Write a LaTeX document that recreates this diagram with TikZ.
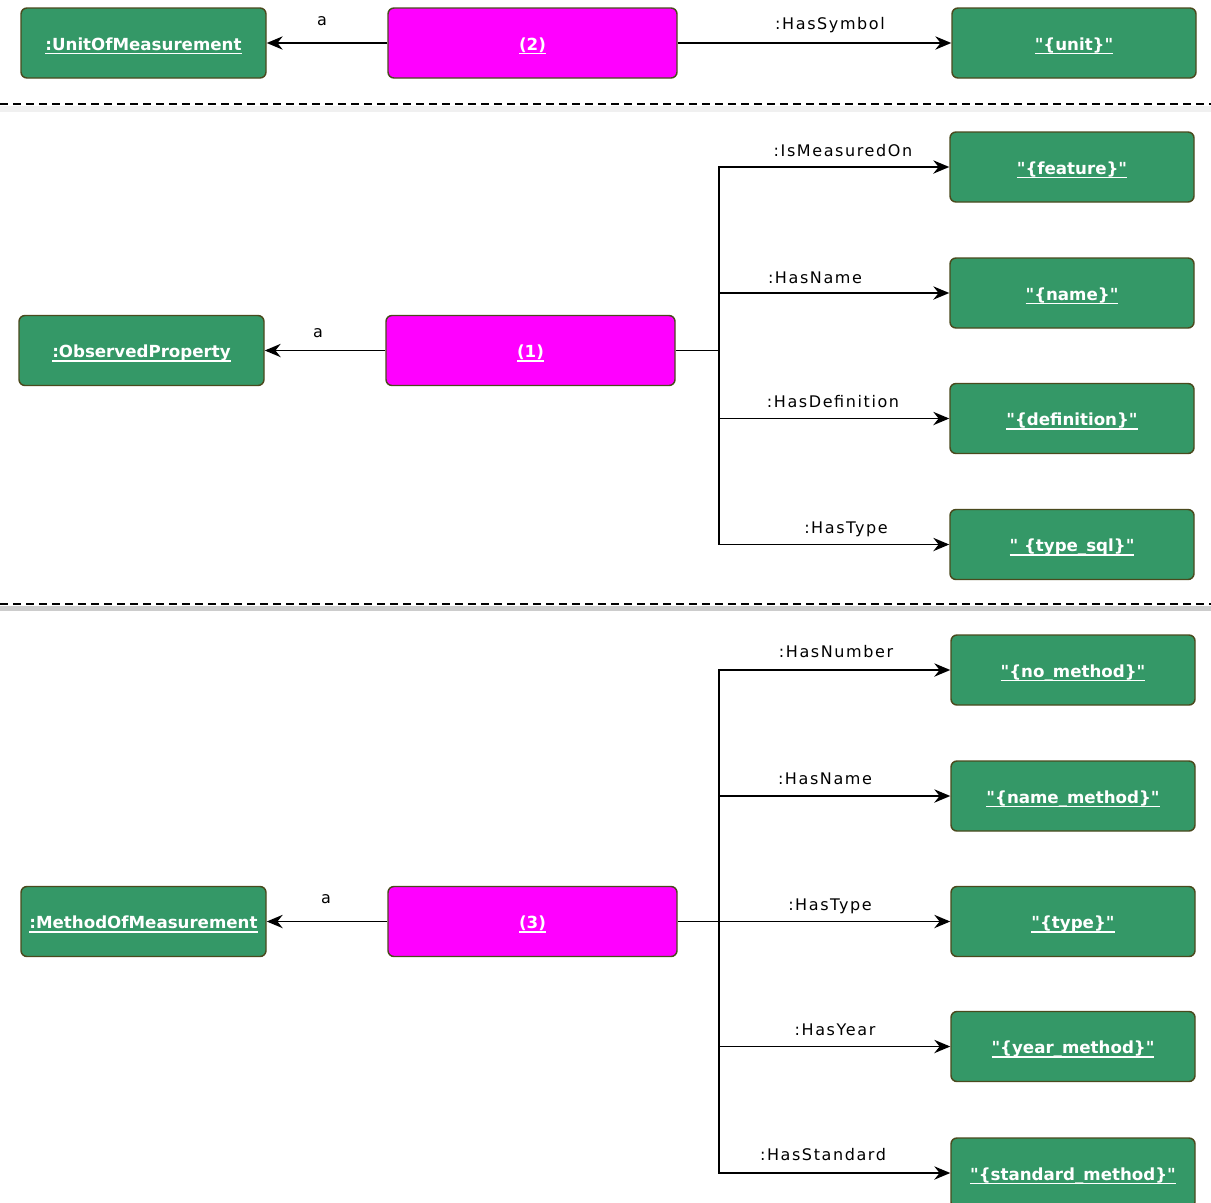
\documentclass[tikz,border=0pt]{standalone}
\usepackage{fontspec}
\setmainfont{DejaVu Sans}[Ligatures=TeXOff]
\newfontfamily\edgefont[LetterSpace=10,Ligatures=TeXOff]{DejaVu Sans}
\usetikzlibrary{arrows.meta}
\definecolor{nodegreen}{RGB}{52,152,103}
\definecolor{nodeborder}{RGB}{74,74,30}
\definecolor{magentabox}{RGB}{255,0,255}
\newsavebox{\myulbox}
\newcommand{\myul}[1]{\sbox{\myulbox}{#1}\rlap{\raisebox{-3pt}[0pt][0pt]{\rule{\wd\myulbox}{0.85pt}}}\usebox{\myulbox}}
\tikzset{
  box/.style={draw=nodeborder, line width=1.1pt, rounded corners=4.5pt, minimum height=52.5pt, inner sep=0pt, text height=12.5pt, text depth=2pt, text=white, font=\fontsize{12.5}{15}\selectfont\bfseries},
  cls/.style={box, fill=nodegreen, minimum width=183.75pt},
  lit/.style={box, fill=nodegreen, minimum width=183pt},
  subj/.style={box, fill=magentabox, minimum width=216.75pt},
  link/.style={line width=1.2pt, draw=black},
  arr/.style={link, -{Stealth[length=12pt,width=10pt,inset=4pt]}},
  elabel/.style={anchor=base, inner sep=0pt, font=\edgefont\fontsize{12}{14}\selectfont},
  sepline/.style={line width=1.5pt, dash pattern=on 6pt off 3.75pt}
}
\begin{document}
\begin{tikzpicture}[x=0.75pt,y=-0.75pt]
\useasboundingbox (0,0) rectangle (1211,1203);
\fill[white] (0,0) rectangle (1211,1203);
% section separators
\fill[gray!12] (0,106) rectangle (1211,112);
\fill[gray!40] (0,606) rectangle (1211,611);
\draw[sepline] (0,103.5) -- (1211,103.5);
\draw[sepline] (0,603.5) -- (1211,603.5);

% ---- section 1
\node[cls]  (uom)  at (143.5,43) {\myul{:UnitOfMeasurement}};
\node[subj] (s2)   at (532.5,43) {\myul{(2)}};
\node[lit]  (unit) at (1074,43)  {\myul{"\{unit\}"}};
\draw[arr] (s2) -- (uom);
\draw[arr] (s2) -- (unit);
\node[elabel] (la2) at (322,25) {a};
\node[elabel] (lsym) at (830,29) {:HasSymbol};

% ---- section 2
\node[cls]  (op)   at (141.5,350.5) {\myul{:ObservedProperty}};
\node[subj] (s1)   at (530.5,350.5) {\myul{(1)}};
\node[lit]  (feat) at (1072,167)   {\myul{"\{feature\}"}};
\node[lit]  (name) at (1072,293)   {\myul{"\{name\}"}};
\node[lit]  (defi) at (1072,418.5) {\myul{"\{definition\}"}};
\node[lit]  (tsql) at (1072,544.5) {\myul{" \{type\_sql\}"}};
\coordinate (j1) at (719,350.5);
\draw[arr] (s1) -- (op);
\draw[link] (s1) -- (j1);
\draw[arr] (j1) |- (feat);
\draw[arr] (j1) |- (name);
\draw[arr] (j1) |- (defi);
\draw[arr] (j1) |- (tsql);
\node[elabel] (la1) at (318,337) {a};
\node[elabel] (lmeas) at (843,156) {:IsMeasuredOn};
\node[elabel] (lname1) at (815,283) {:HasName};
\node[elabel] (ldef) at (833,407) {:HasDefinition};
\node[elabel] (ltype1) at (846,533) {:HasType};

% ---- section 3
\node[cls]  (mom)  at (143.5,921.5) {\myul{:MethodOfMeasurement}};
\node[subj] (s3)   at (532.5,921.5) {\myul{(3)}};
\node[lit]  (nom)  at (1073,670)    {\myul{"\{no\_method\}"}};
\node[lit]  (nam)  at (1073,796)    {\myul{"\{name\_method\}"}};
\node[lit]  (typ)  at (1073,921.5)  {\myul{"\{type\}"}};
\node[lit]  (yea)  at (1073,1046.5) {\myul{"\{year\_method\}"}};
\node[lit]  (sta)  at (1073,1173)   {\myul{"\{standard\_method\}"}};
\coordinate (j3) at (719,921.5);
\draw[arr] (s3) -- (mom);
\draw[link] (s3) -- (j3);
\draw[arr] (j3) |- (nom);
\draw[arr] (j3) |- (nam);
\draw[arr] (j3) -- (typ);
\draw[arr] (j3) |- (yea);
\draw[arr] (j3) |- (sta);
\node[elabel] (la3) at (326,903) {a};
\node[elabel] (lnum) at (836,657) {:HasNumber};
\node[elabel] (lname3) at (825,784) {:HasName};
\node[elabel] (ltype3) at (830,910) {:HasType};
\node[elabel] (lyear) at (835,1035) {:HasYear};
\node[elabel] (lstd) at (823,1160) {:HasStandard};
\end{tikzpicture}
\end{document}
